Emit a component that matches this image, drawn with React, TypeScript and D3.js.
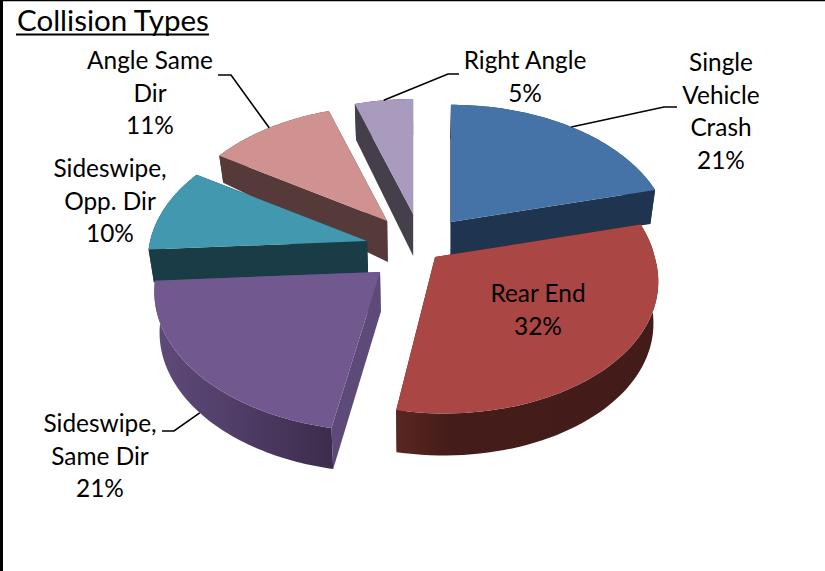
import React from "react";
import * as d3 from "d3";

// Share of collisions by type, clockwise from twelve o'clock.
const categories = ["Single Vehicle Crash", "Rear End", "Sideswipe, Same Dir", "Sideswipe, Opp. Dir", "Angle Same Dir", "Right Angle"];
const shares = [21, 32, 21, 10, 11, 5];
const labelLines = [
  ["Single", "Vehicle", "Crash", "21%"],
  ["Rear End", "32%"],
  ["Sideswipe,", "Same Dir", "21%"],
  ["Sideswipe,", "Opp. Dir", "10%"],
  ["Angle Same", "Dir", "11%"],
  ["Right Angle", "5%"],
];

// Slice appearance.
const topColors = ["#4572a7", "#aa4643", "#71588f", "#4198af", "#d09291", "#a99bbd"];
const cutColors = ["#1f344e", "#431c19", "#5e4a78", "#1a3c46", "#563a3a", "#453f4c"];
const rimLeft = ["#1f344e", "#5a2722", "#5f4a79", "#1a3c46", "#563a3a", "#453f4c"];
const rimMid = ["#1f344e", "#441c19", "#4f3c66", "#1a3c46", "#563a3a", "#453f4c"];
const rimRight = ["#1f344e", "#431c19", "#3d2c4c", "#1a3c46", "#563a3a", "#453f4c"];
// How far each slice is pulled out, and the bearing offset of that pull in degrees.
const explode = [0.233, 0.1225, 0.265, 0.232, 0.227, 0.234];
const explodeBearing = [4.4, 4, -8.6, -7, 0.5, 4.6];
// Per-slice perspective corrections: rim scale and sideways drift of the near rim.
const rimScale = [1.005, 1.012, 1.03, 1, 0.985, 0.985];
const nearDrift = [0, 9, 0, 0, 0, 0];
const depthAtCentre = [34, 42, 40, 32, 41, 42];
const depthAtRim = [34, 42, 41, 33, 27, 36];

// Label placement: centre x, first baseline, leader elbow points.
const labelX = [721, 538, 100, 110, 150, 525];
const labelY = [71, 302, 432, 177, 69, 69];
const leaderElbows: (number[][] | null)[] = [
  [[677, 107], [664, 107]],
  null,
  [[162, 431], [174, 431]],
  null,
  [[218, 75], [231, 75]],
  [[459, 74], [448, 74]],
];
const lineGap = 32.7;

// Oblique projection: each slice is pushed out on the page, then foreshortened
// around its own apex so that the far rim reads smaller than the near rim.
const cx = 417, cy = 245, R = 217, Ry = 133, k = 0.14, baseShrink = 0.98;

type Arc = d3.PieArcDatum<number>;

const arcs: Arc[] = d3.pie<number>().sort(null).startAngle(0).endAngle(2 * Math.PI)(shares);

function project(i: number, theta: number, r: number, bottom: boolean): [number, number] {
  const mid = (arcs[i].startAngle + arcs[i].endAngle) / 2 + (explodeBearing[i] * Math.PI) / 180;
  const v = Math.cos(theta);
  const w = 1 + k * r * v;
  const rr = r * rimScale[i];
  const sx = cx + R * (explode[i] * Math.sin(mid) + (rr * Math.sin(theta)) / w) + nearDrift[i] * r * Math.max(0, -v);
  const sy = cy - Ry * (explode[i] * Math.cos(mid) + (rr * v) / w);
  if (!bottom) return [sx, sy];
  const d = depthAtCentre[i] + (depthAtRim[i] - depthAtCentre[i]) * r;
  return [cx + (sx - cx) * baseShrink, sy + d];
}

const line = d3.line<[number, number]>().curve(d3.curveLinear);

function arcPoints(i: number, bottom: boolean): [number, number][] {
  const a = arcs[i];
  const angles = d3.range(0, 61).map((s) => a.startAngle + ((a.endAngle - a.startAngle) * s) / 60);
  return angles.map((t) => project(i, t, 1, bottom));
}

const paintOrder = [5, 4, 3, 2, 0, 1];

function Slice({ i }: { i: number }) {
  const a = arcs[i];
  const topArc = arcPoints(i, false);
  const botArc = arcPoints(i, true);
  const apex = project(i, 0, 0, false);
  const apexB = project(i, 0, 0, true);
  const cut = (t: number) =>
    line([apex, project(i, t, 1, false), project(i, t, 1, true), apexB])! + "Z";
  const xs = topArc.map((p) => p[0]);
  return (
    <g>
      <linearGradient id={`rim${i}`} gradientUnits="userSpaceOnUse" x1={d3.min(xs)} x2={d3.max(xs)} y1={0} y2={0}>
        <stop offset="0" stopColor={rimLeft[i]} />
        <stop offset={i === 1 ? "0.2" : "0.5"} stopColor={rimMid[i]} />
        <stop offset="1" stopColor={rimRight[i]} />
      </linearGradient>
      <path d={cut(a.startAngle)} fill={cutColors[i]} />
      <path d={cut(a.endAngle)} fill={cutColors[i]} />
      <path d={line([...topArc, ...botArc.slice().reverse()])! + "Z"} fill={`url(#rim${i})`} />
      <path d={line([apex, ...topArc])! + "Z"} fill={topColors[i]} />
    </g>
  );
}

function Leader({ i }: { i: number }) {
  const elbow = leaderElbows[i];
  if (!elbow) return null;
  const a = arcs[i];
  const mid = (a.startAngle + a.endAngle) / 2;
  // The lower-left slice connects to its outer wall, the others to the top rim.
  const end = project(i, mid, 1, i === 2);
  return <path d={line([...(elbow as [number, number][]), end])!} fill="none" stroke="#000" strokeWidth={1.6} />;
}

export default function App() {
  const font = "Lato, 'Open Sans', sans-serif";
  return (
    <svg width={825} height={571} viewBox="0 0 825 571" style={{ position: "fixed", left: 0, top: 0, background: "#fff" }}>
      <line x1={0} x2={825} y1={0.5} y2={0.5} stroke="#000" strokeWidth={1.5} />
      <line x1={1.5} x2={1.5} y1={0} y2={571} stroke="#000" strokeWidth={3} />
      <text x={17} y={31} fontFamily={font} fontSize={29.5} fill="#000">Collision Types</text>
      <line x1={16} x2={209} y1={34.5} y2={34.5} stroke="#000" strokeWidth={2} />
      {paintOrder.map((i) => <Slice key={categories[i]} i={i} />)}
      {arcs.map((_, i) => <Leader key={i} i={i} />)}
      {labelLines.map((lines, i) => (
        <text key={i} textAnchor="middle" fontFamily={font} fontSize={24.4} fill="#000">
          {lines.map((t, j) => (
            <tspan key={j} x={labelX[i]} y={labelY[i] + j * lineGap}>{t}</tspan>
          ))}
        </text>
      ))}
    </svg>
  );
}
